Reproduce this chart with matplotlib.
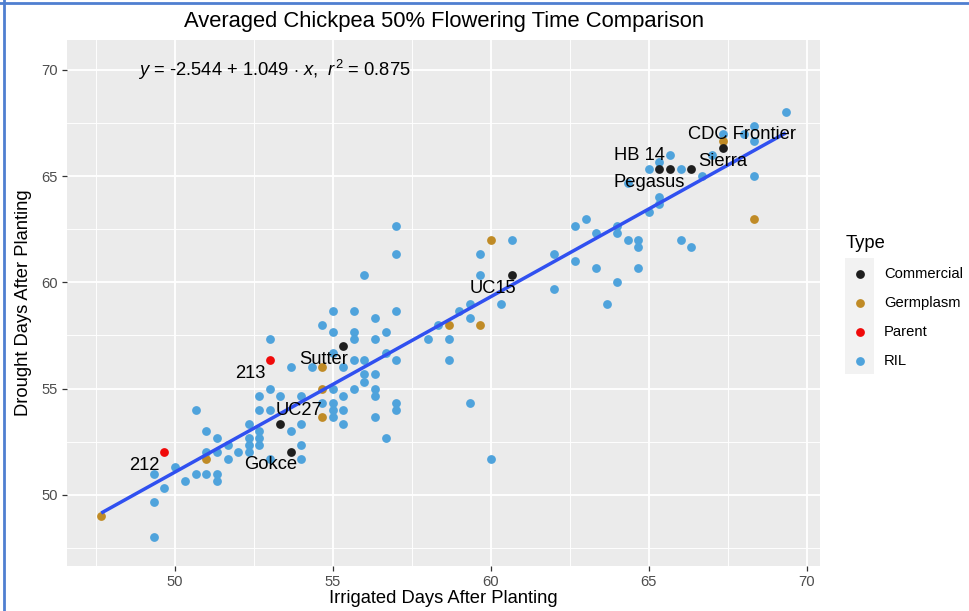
import numpy as np
import matplotlib
matplotlib.use("Agg")
import matplotlib.pyplot as plt
from matplotlib.patches import Rectangle

plt.rcParams['font.family'] = ['Liberation Sans', 'DejaVu Sans']
plt.rcParams['mathtext.fontset'] = 'custom'
plt.rcParams['mathtext.rm'] = 'Liberation Sans'
plt.rcParams['mathtext.it'] = 'Liberation Sans:italic'

# --- data (irrigated days, drought days) ---
commercial_names = ["Sutter", "UC27", "Gokce", "UC15", "HB 14", "Pegasus", "Sierra", "CDC Frontier"]
commercial_x = [55.33, 53.33, 53.67, 60.67, 65.33, 65.67, 66.33, 67.33]
commercial_y = [57.0, 53.33, 52.0, 60.33, 65.33, 65.33, 65.33, 66.33]

germplasm_x = [47.67, 51.0, 54.67, 54.67, 54.67, 58.67, 59.67, 60.0, 67.33, 68.33]
germplasm_y = [49.0, 51.67, 56.0, 55.0, 53.67, 58.0, 58.0, 62.0, 66.67, 63.0]

parent_names = ["212", "213"]
parent_x = [49.67, 53.0]
parent_y = [52.0, 56.33]

ril_x = [49.33, 49.33, 49.33, 49.67, 50.0, 50.33, 50.67, 50.67, 51.0, 51.0, 51.0,
         51.33, 51.33, 51.33, 51.33, 51.67, 51.67, 52.0, 52.33, 52.33, 52.33, 52.33,
         52.67, 52.67, 52.67, 52.67, 52.67, 53.0, 53.0, 53.0, 53.0, 53.33, 53.67, 53.67,
         54.0, 54.0, 54.0, 54.0, 54.33, 54.67, 54.67, 55.0, 55.0, 55.0, 55.0, 55.0, 55.0,
         55.0, 55.33, 55.33, 55.33, 55.33, 55.67, 55.67, 55.67, 55.67, 55.67, 56.0, 56.0,
         56.0, 56.0, 56.33, 56.33, 56.33, 56.33, 56.33, 56.33, 56.67, 56.67, 56.67, 57.0,
         57.0, 57.0, 57.0, 57.0, 57.0,
         58.0, 58.33, 58.67, 58.67, 59.0, 59.33, 59.33, 59.33, 59.67, 59.67, 60.0, 60.33,
         60.67, 62.0, 62.0,
         62.67, 62.67, 63.0, 63.33, 63.33, 63.67, 64.0, 64.0, 64.0, 64.33, 64.33, 64.67,
         64.67, 64.67, 65.0, 65.0, 65.33, 65.33, 65.33, 65.67, 66.0, 66.0, 66.33, 66.67,
         67.0, 67.33, 68.0, 68.33, 68.33, 68.33, 69.33]
ril_y = [48.0, 49.67, 51.0, 50.33, 51.33, 50.67, 51.0, 54.0, 53.0, 52.0, 51.0,
         52.67, 52.0, 51.0, 50.67, 52.33, 51.67, 52.0, 52.0, 52.33, 52.67, 53.33,
         54.67, 54.0, 53.0, 52.67, 52.33, 55.0, 54.0, 57.33, 51.67, 54.67, 56.0, 53.0,
         54.67, 53.33, 52.33, 51.67, 56.0, 58.0, 54.33, 58.67, 57.67, 56.67, 55.0, 54.33, 54.0,
         53.67, 56.0, 54.67, 54.0, 53.33, 58.67, 57.67, 57.33, 56.33, 55.0, 60.33, 56.33,
         55.67, 55.33, 58.33, 57.33, 55.67, 55.0, 54.67, 53.67, 57.67, 56.67, 52.67, 62.67,
         61.33, 58.67, 56.33, 54.33, 54.0,
         57.33, 58.0, 57.33, 56.33, 58.67, 59.0, 58.33, 54.33, 61.33, 60.33, 51.67, 59.0,
         62.0, 61.33, 59.67,
         62.67, 61.0, 63.0, 62.33, 60.67, 59.0, 62.67, 62.33, 60.0, 62.0, 64.67, 62.0,
         61.67, 60.67, 65.33, 63.33, 65.67, 64.0, 63.67, 66.0, 65.33, 62.0, 61.67, 65.0,
         66.0, 67.0, 67.0, 67.33, 66.67, 65.0, 68.0]

types = ["Commercial", "Germplasm", "Parent", "RIL"]
type_colors = ["#1E1E1E", "#C08B26", "#F00A0A", "#4FA3DC"]

# label anchor positions (repelled text), data units
commercial_label_x = [54.72, 53.93, 53.04, 60.05, 64.71, 65.02, 67.34, 67.94]
commercial_label_y = [56.35, 53.95, 51.41, 59.69, 65.95, 64.68, 65.67, 66.94]
parent_label_x = [49.02, 52.38]
parent_label_y = [51.36, 55.69]

all_x = np.array(commercial_x + germplasm_x + parent_x + ril_x)
all_y = np.array(commercial_y + germplasm_y + parent_y + ril_y)

# --- figure ---
W, H = 969, 611
fig = plt.figure(figsize=(W / 100, H / 100), dpi=100)
left, right, top, bottom = 67, 820, 40, 566
ax = fig.add_axes([left / W, 1 - bottom / H, (right - left) / W, (bottom - top) / H])
ax.set_facecolor("#EBEBEB")
for s in ax.spines.values():
    s.set_visible(False)

pt = 40
ax.scatter(ril_x, ril_y, s=pt, color=type_colors[3], linewidths=0, zorder=2)
ax.scatter(germplasm_x, germplasm_y, s=pt, color=type_colors[1], linewidths=0, zorder=2)
ax.scatter(parent_x, parent_y, s=pt, color=type_colors[2], linewidths=0, zorder=2)
ax.scatter(commercial_x, commercial_y, s=pt, color=type_colors[0], linewidths=0, zorder=2)

# linear fit line over data range
slope, intercept = np.polyfit(all_x, all_y, 1)
xs = np.array([all_x.min(), all_x.max()])
ax.plot(xs, intercept + slope * xs, color="#3050F0", lw=2.5, zorder=3, solid_capstyle="butt")

for name, lx, ly in zip(commercial_names, commercial_label_x, commercial_label_y):
    ax.text(lx, ly, name, fontsize=13.2, ha="center", va="center", color="black", zorder=4)
for name, lx, ly in zip(parent_names, parent_label_x, parent_label_y):
    ax.text(lx, ly, name, fontsize=13.2, ha="center", va="center", color="black", zorder=4)

ax.text(48.83, 70.0, r"$y$ = -2.544 + 1.049 $\cdot$ $x$,  $r^2$ = 0.875", fontsize=13.2,
        ha="left", va="center", zorder=4)

xr = all_x.max() - all_x.min()
ax.set_xlim(all_x.min() - 0.05 * xr, all_x.max() + 0.05 * xr)
ax.set_ylim(46.65, 71.4)
ax.set_xticks([50, 55, 60, 65, 70])
ax.set_yticks([50, 55, 60, 65, 70])
ax.set_xticks(np.arange(47.5, 70, 5), minor=True)
ax.set_yticks(np.arange(47.5, 70, 5), minor=True)
ax.grid(which="major", color="white", lw=1.3)
ax.grid(which="minor", color="white", lw=0.65)
ax.set_axisbelow(True)
ax.tick_params(which="major", length=3.5, width=0.9, color="#333333",
               labelcolor="#4D4D4D", labelsize=10.6, pad=3)
ax.tick_params(which="minor", length=0)

ax.set_xlabel("Irrigated Days After Planting", fontsize=13.2, labelpad=1)
ax.set_ylabel("Drought Days After Planting", fontsize=13.2, labelpad=7)
fig.text((left + right) / 2 / W, 1 - 22 / H, "Averaged Chickpea 50% Flowering Time Comparison",
         fontsize=15.8, ha="center", va="center")

# --- legend & frame, in pixel coordinates ---
ov = fig.add_axes([0, 0, 1, 1], zorder=5)
ov.set_xlim(0, W)
ov.set_ylim(H, 0)
ov.axis("off")
ov.patch.set_alpha(0)
ov.plot([0, W], [3, 3], color="#4F7FD0", lw=2)
ov.plot([4, 4], [0, H], color="#4F7FD0", lw=2)
ov.text(846, 243, "Type", fontsize=13.2, ha="left", va="center")
ov.add_patch(Rectangle((845, 258), 29, 116, color="#F2F2F2", lw=0))
for i, (t, c) in enumerate(zip(types, type_colors)):
    ky = 273.5 + i * 29.3
    ov.scatter([860], [ky], s=pt, color=c, linewidths=0)
    ov.text(884, ky, t, fontsize=10.6, ha="left", va="center", color="black")

fig.savefig("out.png", dpi=100)
